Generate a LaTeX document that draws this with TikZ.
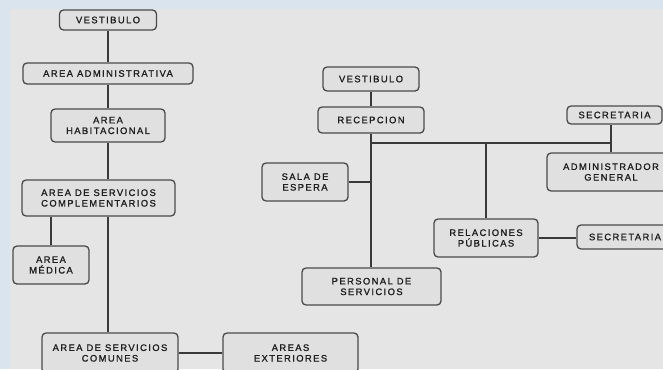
\documentclass[tikz,border=0pt]{standalone}
\usepackage{fontspec}
\setmainfont{Liberation Sans}[LetterSpace=15,FakeBold=1.2]
\definecolor{bgblue}{HTML}{D9E4EF}
\definecolor{bggray}{HTML}{E5E5E5}
\definecolor{boxfill}{HTML}{E0E0E0}
\definecolor{boxline}{HTML}{4A4A4A}
\definecolor{conn}{HTML}{3A3A3A}
\definecolor{txt}{HTML}{1E1E1E}
\tikzset{
  bx/.style={draw=boxline, line width=1.3pt, rounded corners=4pt, fill=boxfill,
    align=center, inner sep=0pt, font=\fontsize{9.4}{10.6}\selectfont, text=txt},
  ln/.style={draw=conn, line width=1.2pt}
}
\begin{document}
\begin{tikzpicture}[x=1pt,y=-1pt]
\clip (0,0) rectangle (663,369);
\fill[bgblue] (0,0) rectangle (663,369);
\fill[bggray] (10,9) rectangle (663,369);
% left column
\node[bx, minimum width=97pt, minimum height=20pt] (v1) at (108,20) {VESTIBULO};
\node[bx, minimum width=170pt, minimum height=21pt] (adm) at (108,73.5) {AREA ADMINISTRATIVA};
\node[bx, minimum width=114pt, minimum height=33pt] (hab) at (108,125.5) {AREA\\HABITACIONAL};
\node[bx, minimum width=153pt, minimum height=36pt] (comp) at (98.5,198) {AREA DE SERVICIOS\\COMPLEMENTARIOS};
\node[bx, minimum width=76pt, minimum height=38pt] (med) at (51,265) {AREA\\MÉDICA};
\node[bx, minimum width=136pt, minimum height=40pt] (comun) at (110,353) {AREA DE SERVICIOS\\COMUNES};
\node[bx, minimum width=135pt, minimum height=40pt] (ext) at (290.5,353) {AREAS\\EXTERIORES};
% right part
\node[bx, minimum width=96pt, minimum height=24pt] (v2) at (371,79) {VESTIBULO};
\node[bx, minimum width=106pt, minimum height=26pt] (rec) at (371,120) {RECEPCION};
\node[bx, minimum width=86pt, minimum height=38pt] (sala) at (305,182) {SALA DE\\ESPERA};
\node[bx, minimum width=139pt, minimum height=37pt] (pers) at (371.5,286.5) {PERSONAL DE\\SERVICIOS};
\node[bx, minimum width=95pt, minimum height=18pt] (sec1) at (614.5,115) {SECRETARIA};
\node[bx, minimum width=128pt, minimum height=38pt] (admg) at (611,172) {ADMINISTRADOR\\GENERAL};
\node[bx, minimum width=104pt, minimum height=38pt] (rp) at (486,238) {RELACIONES\\PÚBLICAS};
\node[bx, minimum width=96pt, minimum height=24pt] (sec2) at (625,237) {SECRETARIA};
\coordinate (j) at (0,143);
% connectors left
\draw[ln] (v1.south) -- (adm.north);
\draw[ln] (adm.south) -- (hab.north);
\draw[ln] (hab.south) -- (hab.south |- comp.north);
\draw[ln] (hab.south |- comp.south) -- (hab.south |- comun.north);
\draw[ln] (med.north |- comp.south) -- (med.north);
\draw[ln] (comun.east) -- (ext.west);
% connectors right
\draw[ln] (v2.south) -- (rec.north);
\draw[ln] (rec.south) -- (rec.south |- pers.north);
\draw[ln] (rec.south |- j) -- (admg.north |- j);
\draw[ln] (admg.north |- sec1.south) -- (admg.north);
\draw[ln] (rp.north |- j) -- (rp.north);
\draw[ln] (sala.east) -- (sala.east -| rec.south);
\draw[ln] (rp.east) -- (sec2.west |- rp.east);
\end{tikzpicture}
\end{document}
